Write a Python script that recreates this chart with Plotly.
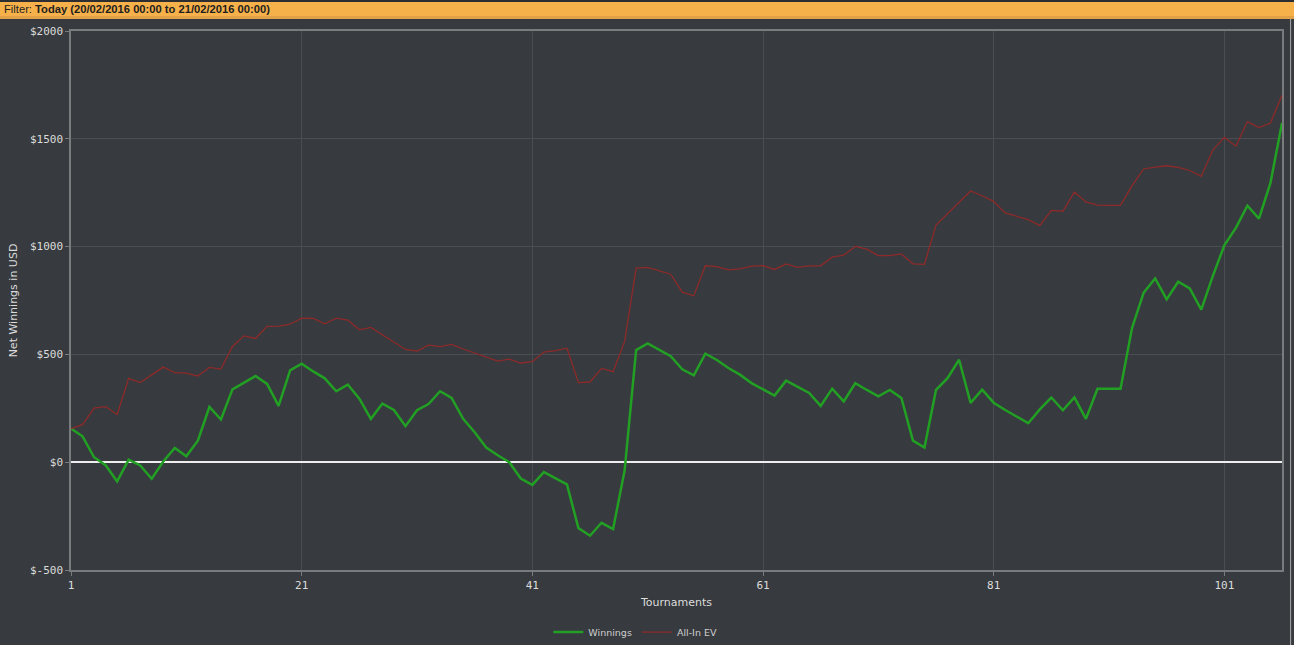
import plotly.graph_objects as go

# tournament numbers 1..106
tournaments = list(range(1, 107))

winnings = [
    156, 120, 23, -14, -89, 12, -15, -77, 3, 66,
    28, 100, 256, 198, 338, 367, 400, 363, 261, 426,
    457, 421, 389, 329, 360, 295, 201, 272, 242, 167,
    241, 270, 329, 298, 201, 139, 68, 32, 0, -76,
    -105, -46, -74, -103, -306, -341, -281, -310, -39, 520,
    551, 522, 492, 431, 403, 503, 474, 437, 406, 367,
    339, 309, 378, 349, 321, 261, 341, 282, 366, 335,
    306, 335, 298, 100, 68, 335, 390, 475, 275, 336,
    276, 242, 212, 181, 245, 300, 241, 301, 201, 341,
    341, 341, 623, 786, 852, 755, 837, 806, 708, 863,
    1006, 1087, 1190, 1130, 1295, 1573,
]

allin_ev = [
    156, 174, 251, 258, 221, 389, 369, 404, 441, 415,
    413, 400, 440, 432, 537, 586, 574, 630, 631, 640,
    668, 667, 642, 668, 659, 614, 625, 591, 559, 523,
    515, 543, 536, 546, 525, 506, 485, 469, 478, 460,
    466, 511, 517, 529, 369, 372, 435, 420, 559, 900,
    904, 887, 872, 789, 772, 911, 907, 892, 897, 909,
    912, 894, 920, 904, 911, 911, 951, 960, 1001, 988,
    958, 958, 966, 920, 918, 1100, 1153, 1202, 1258, 1236,
    1210, 1156, 1140, 1125, 1097, 1168, 1164, 1253, 1207, 1192,
    1191, 1191, 1283, 1360, 1369, 1375, 1367, 1353, 1326, 1448,
    1507, 1465, 1580, 1552, 1573, 1702,
]

x_ticks = [1, 21, 41, 61, 81, 101]
y_ticks = [-500, 0, 500, 1000, 1500, 2000]
y_labels = ["$-500", "$0", "$500", "$1000", "$1500", "$2000"]

filter_text = "Filter: <b>Today (20/02/2016 00:00 to 21/02/2016 00:00)</b>"

bg = "#373a3e"
grid = "#4a4d51"
frame = "#7a7b7d"
txt = "#dcdcdc"

fig = go.Figure()
fig.add_trace(go.Scatter(x=tournaments, y=winnings, name="Winnings", mode="lines",
                         line=dict(color="#21a024", width=2.5)))
fig.add_trace(go.Scatter(x=tournaments, y=allin_ev, name="All-In EV", mode="lines",
                         line=dict(color="#8e2a2a", width=1.3)))

fig.update_layout(
    width=1294, height=645,
    margin=dict(l=71, r=12, t=31, b=75),
    paper_bgcolor=bg, plot_bgcolor=bg,
    font=dict(family="DejaVu Sans", size=11, color=txt),
    hovermode=False,
    showlegend=True,
    legend=dict(orientation="h", x=0.466, xanchor="center", yref="container", y=0.02,
                yanchor="middle", font=dict(size=9.5, color="#cfcfcf"), itemwidth=30,
                tracegroupgap=0),
    xaxis=dict(range=[1, 106], tickvals=x_ticks, showgrid=True, gridcolor=grid,
               zeroline=False, showline=True, mirror=True, linecolor=frame, linewidth=1.5,
               ticks="outside", ticklen=4, tickcolor=frame, automargin=False,
               tickfont=dict(family="DejaVu Sans Mono", size=11, color=txt),
               title=dict(text="Tournaments", standoff=7, font=dict(size=11, color=txt))),
    yaxis=dict(range=[-500, 2000], tickvals=y_ticks, ticktext=y_labels, showgrid=True,
               gridcolor=grid, zeroline=True, zerolinecolor="#eeeeee", zerolinewidth=2,
               showline=True, mirror=True, linecolor=frame, linewidth=1.5,
               ticks="outside", ticklen=4, tickcolor=frame, automargin=False,
               tickfont=dict(family="DejaVu Sans Mono", size=11, color=txt),
               title=dict(text="Net Winnings in USD", standoff=10, font=dict(size=11, color=txt))),
)

# thin dark strip above the filter bar, then the orange bar itself
fig.add_shape(type="rect", xref="paper", yref="paper", x0=-0.06, x1=1.01, y0=1.0538, y1=1.0575,
              fillcolor="#2c2e31", line_width=0, layer="above")
fig.add_shape(type="rect", xref="paper", yref="paper", x0=-0.06, x1=1.01, y0=1.0223, y1=1.0538,
              fillcolor="#f6b14b", line_width=0, layer="above")
fig.add_shape(type="rect", xref="paper", yref="paper", x0=-0.06, x1=1.01, y0=1.0223, y1=1.028,
              fillcolor="#e2a144", line_width=0, layer="above")
fig.add_annotation(text=filter_text, xref="paper", yref="paper", x=-0.0572, y=1.0399,
                   xanchor="left", yanchor="middle", showarrow=False,
                   font=dict(family="Liberation Sans", size=11.2, color="#1e1e1e"))
# light edge on the right side of the panel
fig.add_shape(type="line", xref="paper", yref="paper", x0=1.0071, x1=1.0071, y0=-0.14, y1=1.0223,
              line=dict(color="#a9abad", width=1))

fig.write_html("out.html", config={"displayModeBar": False},
               post_script="document.body.style.margin='0';")
